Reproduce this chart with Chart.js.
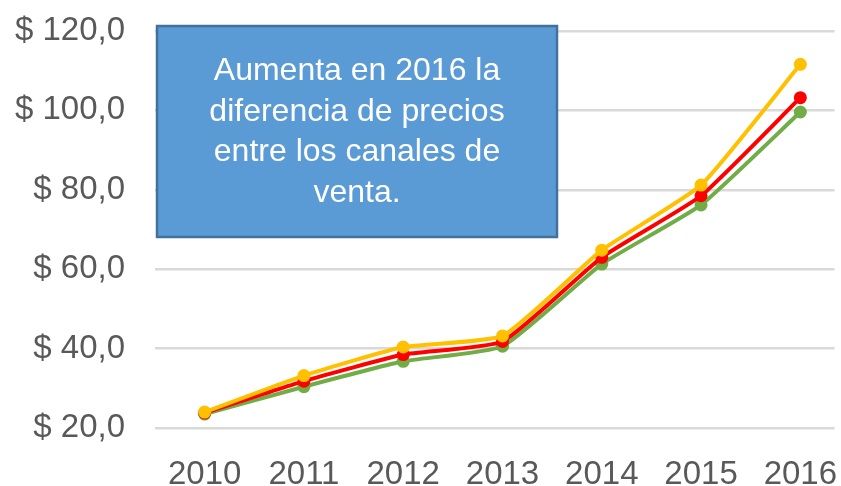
<!DOCTYPE html>
<html>
<head>
<meta charset="utf-8">
<script src="https://cdn.jsdelivr.net/npm/chart.js@4/dist/chart.umd.min.js"></script>
<style>
  html, body { margin: 0; padding: 0; overflow: hidden; background: #fff; }
  canvas { display: block; }
</style>
</head>
<body>
<canvas id="precios" width="841" height="486"></canvas>
<script>
const years = ['2010', '2011', '2012', '2013', '2014', '2015', '2016'];
const naranja = [24.0, 33.2, 40.4, 43.2, 64.8, 81.2, 111.6];
const rojo = [23.8, 31.8, 38.5, 41.8, 63.0, 78.5, 103.2];
const verde = [23.5, 30.4, 36.8, 40.6, 61.3, 76.2, 99.6];
const yTicks = [20, 40, 60, 80, 100, 120];
const nota = ['Aumenta en 2016 la', 'diferencia de precios', 'entre los canales de', 'venta.'];

const labelFont = { family: '"Liberation Sans", Arial, sans-serif', size: 33, lineHeight: 1 };

// the original plot runs a little past the right edge of the picture
const extendX = {
    id: 'extendX',
    afterLayout(chart) {
        const x = chart.scales.x;
        x.right = 850;
        x.width = x.right - x.left;
        x.configure();
    }
};

// text box drawn over the plot
const notaBox = {
    id: 'notaBox',
    afterDatasetsDraw(chart) {
        const ctx = chart.ctx;
        ctx.save();
        ctx.fillStyle = '#5B9BD5';
        ctx.strokeStyle = '#41719C';
        ctx.lineWidth = 2.5;
        ctx.fillRect(157, 26, 400, 211);
        ctx.strokeRect(157, 26, 400, 211);
        ctx.fillStyle = '#ffffff';
        ctx.font = '32px "Liberation Sans", Arial, sans-serif';
        ctx.textAlign = 'center';
        ctx.textBaseline = 'middle';
        nota.forEach((line, i) => ctx.fillText(line, 357, 71 + i * 40.7));
        ctx.restore();
    }
};

function serie(data, color) {
    return {
        data: data,
        borderColor: color,
        backgroundColor: color,
        borderWidth: 4,
        pointRadius: 6.5,
        pointHoverRadius: 6.5,
        pointBorderWidth: 0,
        tension: 0.15
    };
}

new Chart(document.getElementById('precios'), {
    type: 'line',
    data: {
        labels: years,
        datasets: [serie(naranja, '#FFC000'), serie(rojo, '#FF0000'), serie(verde, '#70AD47')]
    },
    plugins: [extendX, notaBox],
    options: {
        responsive: false,
        animation: false,
        layout: { padding: 0 },
        plugins: { legend: { display: false }, tooltip: { enabled: false } },
        scales: {
            x: {
                offset: true,
                grid: { display: false },
                border: { display: false },
                afterFit: axis => {
                    axis.height = 58;
                    axis.paddingLeft = 0;
                    axis.paddingRight = 0;
                },
                ticks: { color: '#595959', font: labelFont, padding: 22, maxRotation: 0 }
            },
            y: {
                min: 20,
                max: 120,
                afterBuildTicks: axis => { axis.ticks = yTicks.map(v => ({ value: v })); },
                afterFit: axis => {
                    axis.width = 155;
                    axis.paddingTop = 31;
                    axis.paddingBottom = 0;
                },
                grid: { color: '#D9D9D9', lineWidth: 2.5, drawTicks: false },
                border: { display: false },
                ticks: {
                    color: '#595959',
                    font: labelFont,
                    padding: 30,
                    callback: v => '$ ' + v.toFixed(1).replace('.', ',')
                }
            }
        }
    }
});
</script>
</body>
</html>
